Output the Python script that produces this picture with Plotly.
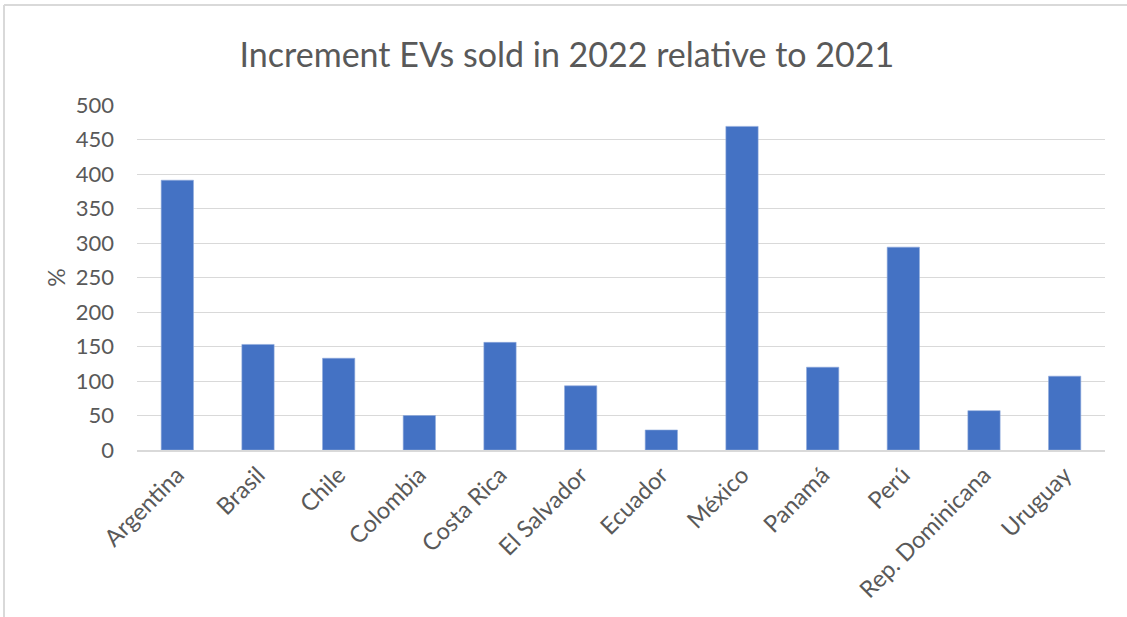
import plotly.graph_objects as go

countries = ["Argentina", "Brasil", "Chile", "Colombia", "Costa Rica", "El Salvador",
             "Ecuador", "México", "Panamá", "Perú", "Rep. Dominicana", "Uruguay"]
increment_pct = [391, 153, 133, 50, 156, 93, 29, 469, 120, 294, 57, 107]
y_ticks = [0, 50, 100, 150, 200, 250, 300, 350, 400, 450, 500]

FONT = "Lato"
GREY = "#595959"

fig = go.Figure(go.Bar(
    x=countries, y=increment_pct,
    marker=dict(color="#4472C4", line=dict(color="#8faadc", width=0.6)),
))

fig.update_layout(
    width=1127, height=617,
    margin=dict(l=137, r=22, t=105, b=167),
    paper_bgcolor="white", plot_bgcolor="white",
    bargap=0.6,
    showlegend=False,
    title=dict(text="Increment EVs sold in 2022 relative to 2021",
               x=0.503, xanchor="center", y=0.91, yanchor="middle",
               font=dict(family=FONT, size=34, color=GREY)),
    font=dict(family=FONT, color=GREY, size=22),
)
fig.update_yaxes(range=[0, 500], tickvals=y_ticks, showgrid=True, gridcolor="#d9d9d9",
                 gridwidth=1.3, zeroline=False, showline=False, ticks="",
                 ticklabelstandoff=22,
                 title=dict(text="%", font=dict(family=FONT, size=23, color=GREY), standoff=3),
                 tickfont=dict(family=FONT, size=22, color=GREY))
fig.update_xaxes(showline=True, linecolor="#d9d9d9", linewidth=2, ticks="",
                 tickangle=-45, tickfont=dict(family=FONT, size=23.5, color=GREY))

# outer chart border (top and left edges visible)
fig.add_shape(type="line", xref="paper", yref="paper",
              x0=-133/968, x1=1.03, y0=1 + 100/345, y1=1 + 100/345,
              line=dict(color="#d9d9d9", width=2))
fig.add_shape(type="line", xref="paper", yref="paper",
              x0=-133/968, x1=-133/968, y0=1 + 100/345, y1=-0.5,
              line=dict(color="#d9d9d9", width=2))

fig.write_html("out.html", config={"displayModeBar": False},
               post_script="document.body.style.margin='0';document.body.style.overflow='hidden';")
